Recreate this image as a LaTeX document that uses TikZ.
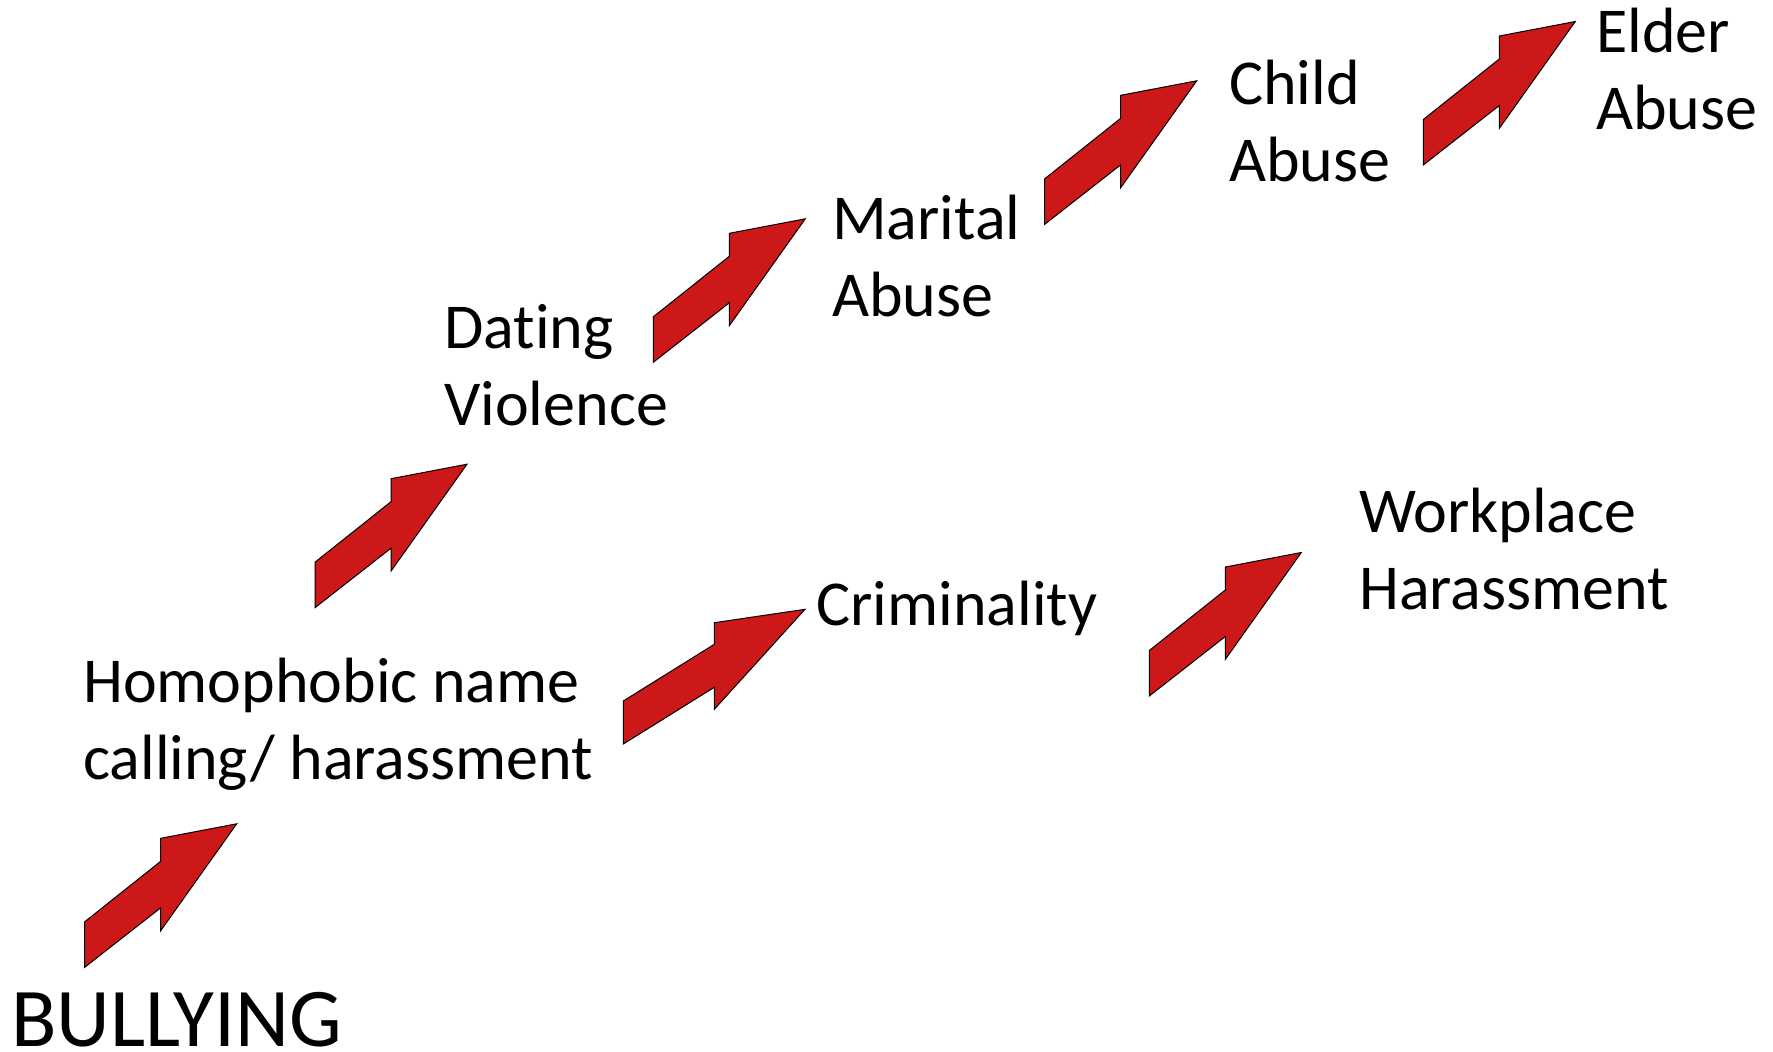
\documentclass[tikz,border=0pt]{standalone}
\usepackage{fontspec}
\setmainfont{Carlito}[RawFeature={-liga,-dlig}]
\definecolor{arrowred}{RGB}{204,24,24}
\tikzset{
  steplabel/.style={anchor=base west, inner sep=0pt, align=left,
    font=\fontsize{64}{77}\selectfont},
  block arrow/.style={fill=arrowred, draw=black, line width=1pt, line join=miter},
  % stepped block arrow, anchored at its lower left corner
  rise/.pic={\path[block arrow] (0,0) -- (0,-45.5) -- (76,-106) -- (76,-129)
      -- (152,-143.5) -- (76,-36.6) -- (76,-59.5) -- cycle;},
  % flatter, longer variant
  rise long/.pic={\path[block arrow] (0,0) -- (0,-43) -- (91,-99.7) -- (91,-121.3)
      -- (181.7,-134.7) -- (91,-34.7) -- (91,-56.7) -- cycle;}
}
\begin{document}
\begin{tikzpicture}[x=1pt, y=-1pt]
  \useasboundingbox (0,0) rectangle (1773,1052);

  % labels (multi-line labels are placed by the baseline of their last line)
  \node[steplabel, font=\fontsize{83.5}{100}\selectfont] (bullying) at (11,1046) {BULLYING};
  \node[steplabel] (homophobic) at (83,779) {Homophobic name\\calling/ harassment};
  \node[steplabel] (dating) at (444,425) {Dating\\Violence};
  \node[steplabel] (marital) at (832,316) {Marital\\Abuse};
  \node[steplabel] (child) at (1229,181) {Child\\Abuse};
  \node[steplabel] (elder) at (1596,129) {Elder\\Abuse};
  \node[steplabel] (criminality) at (816,625) {Criminality};
  \node[steplabel] (workplace) at (1359,609) {Workplace\\Harassment};

  % arrows
  \pic at (84.7,967.3) {rise};
  \pic at (315,607.7) {rise};
  \pic at (653.3,362.3) {rise};
  \pic at (1044.7,224.3) {rise};
  \pic at (1423.3,165) {rise};
  \pic at (623.3,744) {rise long};
  \pic at (1149.3,696) {rise};
\end{tikzpicture}
\end{document}
